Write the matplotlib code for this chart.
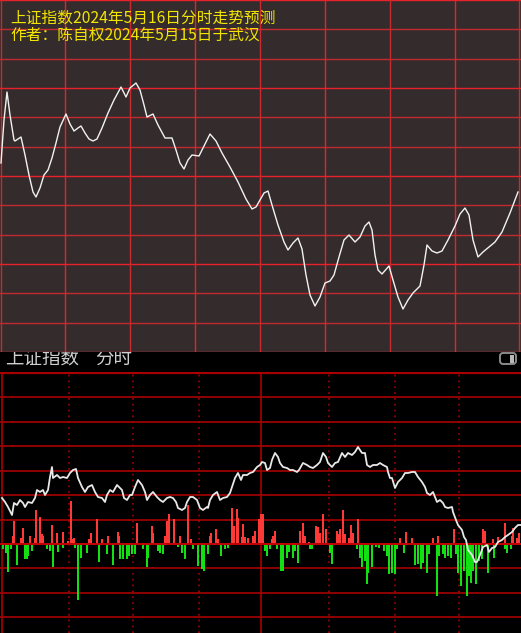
import matplotlib
matplotlib.use("Agg")
import matplotlib.pyplot as plt
from matplotlib.patches import FancyBboxPatch, Rectangle

plt.rcParams['font.family'] = ['Noto Sans CJK SC', 'DejaVu Sans']

# ---------------- data ----------------
title_1 = "上证指数2024年5月16日分时走势预测"
title_2 = "作者：陈自权2024年5月15日于武汉"
header_name = "上证指数"
header_mode = "分时"

# forecast curve (top panel): position along the session, relative level
fc_x = [1, 4, 7, 10, 14, 15, 18, 21, 25, 29, 33, 36, 40, 44, 48, 52, 56, 60, 66, 70,
        74, 78, 81, 85, 89, 93, 97, 102, 108, 114, 121, 126, 130, 136, 140, 144, 147, 153, 158, 165,
        172, 176, 180, 184, 188, 192, 199, 204, 210, 216, 222, 230, 238, 246, 252, 256, 260, 264, 268, 272,
        278, 284, 288, 293, 298, 302, 306, 310, 315, 320, 325, 330, 334, 339, 344, 349, 355, 360, 365, 369,
        372, 375, 378, 382, 389, 393, 398, 403, 408, 413, 420, 424, 427, 432, 437, 442, 448, 455, 460, 465,
        469, 473, 478, 483, 489, 495, 502, 510, 518]
fc_v = [189, 232, 260, 237, 212, 211, 213, 215, 197, 177, 160, 155, 164, 177, 182, 194, 209, 225, 238, 228,
        221, 224, 226, 219, 213, 211, 213, 224, 239, 252, 265, 255, 264, 269, 262, 247, 235, 238, 227, 214,
        214, 202, 189, 183, 192, 197, 196, 206, 218, 211, 199, 185, 170, 153, 143, 145, 152, 159, 161, 147,
        127, 110, 102, 109, 114, 103, 77, 57, 46, 55, 69, 71, 77, 95, 112, 117, 110, 115, 126, 130,
        122, 97, 82, 78, 86, 72, 55, 43, 52, 59, 66, 87, 107, 101, 99, 101, 112, 126, 138, 144,
        137, 112, 95, 100, 105, 110, 120, 139, 160]

# actual intraday line (bottom panel)
px_x = [2, 5, 8, 12, 14, 17, 20, 23, 25, 28, 32, 35, 37, 40, 43, 45, 48, 50, 52, 53,
        57, 60, 63, 67, 70, 73, 76, 78, 82, 85, 88, 92, 95, 98, 102, 105, 107, 110, 113, 117,
        119, 122, 124, 127, 130, 132, 135, 138, 142, 145, 147, 150, 153, 157, 160, 163, 167, 170, 173, 176,
        178, 182, 185, 187, 190, 193, 197, 200, 203, 207, 208, 210, 213, 217, 220, 223, 227, 230, 232, 235,
        238, 241, 243, 247, 250, 253, 257, 260, 262, 265, 267, 270, 272, 275, 278, 280, 283, 287, 290, 293,
        297, 299, 303, 307, 310, 313, 317, 320, 323, 326, 328, 332, 335, 338, 342, 345, 348, 352, 355, 358,
        362, 365, 367, 370, 373, 377, 380, 383, 387, 388, 390, 392, 395, 398, 402, 405, 408, 412, 415, 418,
        422, 425, 427, 430, 433, 437, 440, 443, 445, 448, 452, 453, 456, 458, 462, 464, 466, 468, 472, 475,
        477, 480, 483, 487, 489, 492, 495, 498, 502, 505, 508, 512, 515, 518, 521]
px_v = [46, 42, 37, 29, 41, 39, 44, 41, 37, 42, 41, 46, 54, 52, 54, 49, 54, 67, 77, 66,
        69, 66, 67, 66, 71, 74, 75, 66, 57, 52, 57, 59, 52, 47, 46, 42, 49, 54, 52, 59,
        57, 54, 46, 44, 49, 49, 57, 64, 59, 52, 44, 49, 52, 47, 44, 42, 46, 47, 46, 42,
        36, 34, 36, 42, 47, 47, 44, 36, 34, 37, 36, 44, 49, 52, 44, 46, 47, 51, 57, 66,
        71, 64, 69, 69, 71, 72, 77, 79, 82, 81, 74, 76, 84, 91, 87, 81, 77, 76, 74, 74,
        72, 74, 81, 79, 77, 76, 79, 82, 91, 87, 81, 77, 81, 82, 91, 87, 91, 89, 92, 97,
        91, 91, 79, 77, 79, 79, 81, 79, 77, 72, 66, 66, 56, 62, 66, 71, 71, 72, 72, 67,
        62, 57, 51, 49, 52, 42, 44, 41, 37, 36, 37, 32, 24, 19, 14, 7, 4, -6, -11, -18,
        -18, -11, -3, -1, -8, -4, -3, 2, 4, 7, 9, 12, 16, 19, 19]

# buy/sell strength bars (bottom panel)
up_x = [13, 14, 21, 23, 30, 35, 36, 40, 42, 43, 52, 57, 63, 68, 71, 73, 74, 89, 91, 97, 102, 108, 118, 119,
        137, 152, 153, 165, 167, 169, 174, 180, 188, 191, 210, 211, 216, 218, 232, 234, 237, 238, 242, 243, 245, 248, 253, 255, 259,
        261, 263, 272, 273, 275, 300, 303, 305, 309, 316, 318, 320, 323, 326, 337, 338, 340, 343, 345, 349, 351, 353, 358,
        400, 406, 412, 433, 438, 454, 483, 485, 493, 498, 505, 512, 513, 517, 519]
up_v = [8, 23, 6, 16, 8, 6, 34, 27, 10, 8, 19, 11, 12, 3, 43, 5, 6, 5, 11, 25, 5, 8, 12, 8,
        21, 18, 11, 8, 23, 30, 25, 8, 39, 5, 8, 11, 15, 5, 36, 18, 35, 26, 7, 20, 7, 6, 8, 13, 25,
        30, 30, 5, 8, 13, 13, 21, 8, 2, 18, 17, 11, 30, 15, 13, 10, 15, 34, 10, 6, 19, 11, 25,
        6, 12, 6, 6, 8, 15, 15, 13, 5, 7, 21, 8, 16, 6, 11]
dn_x = [3, 6, 8, 11, 17, 25, 27, 28, 32, 47, 50, 53, 58, 63, 75, 78, 81, 87, 99, 107, 113, 120, 123, 127, 129,
        132, 135, 143, 147, 148, 158, 160, 163, 178, 182, 185, 193, 198, 202, 204, 208, 221, 225, 228,
        265, 267, 270, 277, 281, 283, 287, 289, 293, 295, 298, 310, 312, 330, 332, 357, 360, 362, 365, 367, 368, 372, 376, 379, 384, 387, 389,
        392, 395, 397, 404, 415, 418, 421, 423, 427, 429, 437, 439, 443, 445, 448, 451, 456, 458, 461, 464, 467, 469, 471, 473, 476,
        479, 482, 488, 494, 505, 507, 511]
dn_v = [-5, -9, -28, -5, -21, -15, -15, -12, -7, -5, -7, -23, -8, -4, -4, -56, -14, -9, -18, -10, -21, -15, -15, -15, -12,
        -10, -10, -5, -23, -14, -7, -9, -10, -3, -9, -15, -5, -22, -25, -27, -10, -12, -5, -4,
        -7, -12, -5, -5, -27, -27, -14, -8, -14, -7, -19, -5, -5, -9, -20, -5, -14, -23, -17, -40, -29, -23, -3, -4, -7, -12, -30,
        -29, -30, -5, -9, -21, -20, -25, -19, -29, -10, -52, -12, -10, -14, -12, -14, -10, -29, -42, -27, -52, -32, -39, -27, -40,
        -17, -15, -29, -14, -5, -9, -5]

# ---------------- figure ----------------
W, H = 521, 633
fig = plt.figure(figsize=(W / 100, H / 100), dpi=100, facecolor='black')

top_h = 352
hdr_h = 20
bot_h = H - top_h - hdr_h

# header strip (below the top panel in z-order so the text top is hidden)
axh = fig.add_axes([0, bot_h / H, 1, hdr_h / H], zorder=0)
axh.set_facecolor('black')
axh.set_xlim(0, W)
axh.set_ylim(hdr_h, 0)
axh.axis('off')
axh.text(5, 6.5, header_name, color='#cfcfcf', fontsize=13.3, va='center', ha='left', clip_on=False)
axh.text(95, 6.5, header_mode, color='#cfcfcf', fontsize=13.3, va='center', ha='left', clip_on=False)
axh.add_patch(FancyBboxPatch((500, 1), 16, 11, boxstyle='round,pad=0,rounding_size=3',
                             facecolor='black', edgecolor='#8a8a8a', linewidth=1.4, clip_on=False))
axh.add_patch(Rectangle((509.5, 3), 4.5, 7.5, facecolor='#b8b8b8', edgecolor='none', clip_on=False))

# top forecast panel
axt = fig.add_axes([0, 1 - top_h / H, 1, top_h / H], zorder=2)
axt.set_facecolor('#342c2c')
axt.set_xlim(0, W)
axt.set_ylim(0, top_h)
axt.set_xticks([]); axt.set_yticks([])
for s in axt.spines.values():
    s.set_visible(False)
hstep = top_h / 12
for k in range(0, 13):
    c = '#e8212b' if k % 3 == 0 else '#c02a30'
    axt.axhline(k * hstep, color=c, lw=1.0, zorder=1)
vstep = 64.85
for k in range(0, 9):
    c = '#e8212b' if k % 2 == 1 else '#c92a30'
    axt.axvline(k * vstep + 0.6, color=c, lw=1.0, zorder=1)
axt.plot(fc_x, fc_v, color='#f2f2f2', lw=1.0, zorder=3, solid_joinstyle='round')
axt.text(10, top_h - 18.5, title_1, color='#f2e600', fontsize=11.3, fontweight='medium',
         va='center', ha='left', zorder=4)
axt.text(10, top_h - 35, title_2, color='#f2e600', fontsize=11.3, fontweight='medium',
         va='center', ha='left', zorder=4)

# bottom intraday panel
axb = fig.add_axes([0, 0, 1, bot_h / H], zorder=1)
axb.set_facecolor('black')
axb.set_xlim(0, W)
ylo, yhi = -89, 172
axb.set_ylim(ylo, yhi)
axb.set_xticks([]); axb.set_yticks([])
for s in axb.spines.values():
    s.set_visible(False)
gstep = 24.45
grid_red = '#a80000'
for k in range(-3, 7):
    axb.axhline(k * gstep, color=grid_red, lw=1.2, zorder=1)
axb.axhline(yhi - 0.6, color=grid_red, lw=1.6, zorder=1)
for xv in [2, 261]:
    axb.axvline(xv, color=grid_red, lw=1.2, zorder=1)
for xv in [69, 133, 199, 329, 395, 459]:
    axb.axvline(xv, color=grid_red, lw=1.2, ls=(0, (1, 2.5)), zorder=1)

axb.bar(up_x, up_v, width=1.5, color='#ff3838', edgecolor='none', zorder=2)
axb.bar(dn_x, dn_v, width=1.5, color='#12e012', edgecolor='none', zorder=2)
axb.axhline(0, color='#c00000', lw=1.4, zorder=2.5)
axb.plot(px_x, px_v, color='#e8e8e8', lw=1.3, zorder=3)

fig.savefig('out.png', dpi=100, facecolor='black')
